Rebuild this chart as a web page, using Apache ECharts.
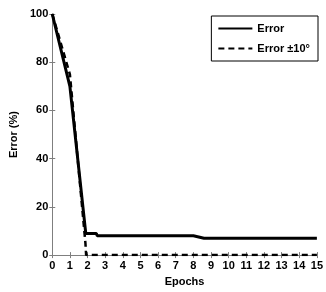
<!DOCTYPE html>
<html><head><meta charset="utf-8">
<script src="https://cdn.jsdelivr.net/npm/echarts@6/dist/echarts.min.js"></script>
<style>html,body{margin:0;padding:0;background:#fff}#c{width:326px;height:292px}</style>
</head><body><div id="c"></div>
<script>
var errEpochs = [0, 1, 1.9, 2.5, 2.55, 8.0, 8.6, 15];
var errValues = [100, 70, 9, 9, 8, 8, 7, 7];
var tolEpochs = [0, 1, 1.88, 1.92, 15];
var tolValues = [100, 75, 5, 0, 0];
var xTicks = [0,1,2,3,4,5,6,7,8,9,10,11,12,13,14,15];
var yTicks = [0,20,40,60,80,100];
var seriesNames = ['Error', 'Error \u00b110\u00b0'];

function pairs(xs, ys){ return xs.map(function(x,i){return [x, ys[i]];}); }
var font = 'Liberation Sans, Arial, sans-serif';
var axisColor = '#7f7f7f';
var chart = echarts.init(document.getElementById('c'));
var baseX = {type:'value', min:0, max:15, interval:1,
  axisLine:{show:true, lineStyle:{color:axisColor, width:1}},
  axisTick:{show:true, inside:true, length:3, lineStyle:{color:axisColor}},
  splitLine:{show:false}};
var baseY = {type:'value', min:0, max:100, interval:20,
  axisLine:{show:true, lineStyle:{color:axisColor, width:1}},
  axisTick:{show:true, inside:true, length:3, lineStyle:{color:axisColor}},
  splitLine:{show:false}};
chart.setOption({
  animation:false,
  grid:{left:47, right:5, top:14, bottom:33},
  legend:{
    data:[{name:seriesNames[0]},{name:seriesNames[1]}],
    orient:'vertical', right:8, top:16,
    itemWidth:34, itemHeight:10, itemGap:9,
    padding:[7,8,7,6],
    borderColor:'#000', borderWidth:1, backgroundColor:'#fff',
    itemStyle:{opacity:0},
    textStyle:{fontFamily:font, fontWeight:'bold', fontSize:11, color:'#000'}
  },
  xAxis:[
    Object.assign({}, baseX, {position:'bottom',
      name:'Epochs', nameLocation:'middle', nameGap:16,
      nameTextStyle:{fontFamily:font, fontWeight:'bold', fontSize:11, color:'#000'},
      axisLabel:{fontFamily:font, fontWeight:'bold', fontSize:11, color:'#000', margin:5,
        formatter:function(v){return xTicks.indexOf(v)>=0?String(v):'';}}}),
    Object.assign({}, baseX, {position:'top', axisLabel:{show:false}})
  ],
  yAxis:[
    Object.assign({}, baseY, {position:'left',
      name:'Error (%)', nameLocation:'middle', nameGap:33,
      nameTextStyle:{fontFamily:font, fontWeight:'bold', fontSize:11, color:'#000'},
      axisLabel:{fontFamily:font, fontWeight:'bold', fontSize:11, color:'#000', margin:4,
        formatter:function(v){return yTicks.indexOf(v)>=0?String(v):'';}}}),
    Object.assign({}, baseY, {position:'right', axisLabel:{show:false}})
  ],
  series:[
    {name:seriesNames[0], type:'line', data:pairs(errEpochs, errValues),
      symbol:'none', lineStyle:{color:'#000', width:3}, itemStyle:{color:'#000'}},
    {name:seriesNames[1], type:'line', data:pairs(tolEpochs, tolValues),
      symbol:'none', lineStyle:{color:'#000', width:2.5, type:[6,4]}, itemStyle:{color:'#000'}}
  ]
});
</script></body></html>
